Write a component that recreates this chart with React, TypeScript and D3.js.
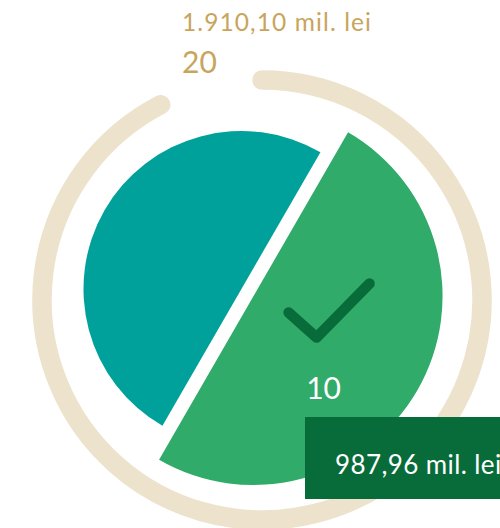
import React from "react";
import * as d3 from "d3";

// ---- data ----
const categories = ["Verde", "Turcoaz"];
const counts = [10, 10];
const totalCount = 20;
const totalAmountLabel = "1.910,10 mil. lei";
const selectedAmountLabel = "987,96 mil. lei";
const selectedIndex = 0;

const W = 500;
const H = 528;
const FONT = "Lato, 'Open Sans', sans-serif";

const colors = ["#30AB6A", "#00A19A"];
const dark = "#076C3A";
const ringColor = "#EDE3CC";
const gold = "#C8A55C";

export default function App() {
  const pieCenter = { x: 247.5, y: 292.5 };
  const ringCenter = { x: 262, y: 300 };
  const ringR = 220;

  const pie = d3
    .pie<number>()
    .sort(null)
    .value((d) => d)
    .startAngle(Math.PI / 6)
    .endAngle(Math.PI / 6 + 2 * Math.PI);
  const arcs = pie(counts);

  // open arc for the gauge ring (clockwise from 12 o'clock)
  const a0 = 0;
  const a1 = ((360 - 27.4) * Math.PI) / 180;
  const rp = d3.path();
  rp.moveTo(Math.sin(a0) * ringR, -Math.cos(a0) * ringR);
  rp.arc(0, 0, ringR, a0 - Math.PI / 2, a1 - Math.PI / 2, false);
  const ringPath = rp.toString();

  return (
    <svg
      width={W}
      height={H}
      style={{ position: "absolute", left: 0, top: 0 }}
      fontFamily={FONT}
    >
      <path
        d={ringPath}
        transform={`translate(${ringCenter.x},${ringCenter.y})`}
        fill="none"
        stroke={ringColor}
        strokeWidth={19.5}
        strokeLinecap="round"
      />
      {arcs.map((a, i) => {
        const sel = i === selectedIndex;
        const r = sel ? 189 : 158;
        const mid = (a.startAngle + a.endAngle) / 2;
        const off = 7;
        const dx = Math.sin(mid) * off;
        const dy = -Math.cos(mid) * off;
        const arcGen = d3.arc<any>().innerRadius(0).outerRadius(r);
        return (
          <g
            key={categories[i]}
            transform={`translate(${pieCenter.x + dx},${pieCenter.y + dy})`}
          >
            <path d={arcGen(a) as string} fill={colors[i]} />
            {sel && (
              <>
                <polyline
                  points="35,16.5 63,41.5 116,-12.5"
                  fill="none"
                  stroke={dark}
                  strokeWidth={10.5}
                  strokeLinecap="round"
                  strokeLinejoin="round"
                />
                <text
                  x={70}
                  y={102.5}
                  textAnchor="middle"
                  fill="#ffffff"
                  fontSize={30}
                >
                  {counts[i]}
                </text>
              </>
            )}
          </g>
        );
      })}
      <text x={182} y={31} fill={gold} fontSize={24.5} letterSpacing={1.1}>
        {totalAmountLabel}
      </text>
      <text x={182} y={73} fill={gold} fontSize={30}>
        {totalCount}
      </text>
      <rect x={305} y={417} width={200} height={82} fill={dark} />
      <text x={335} y={474} fill="#ffffff" fontSize={26} letterSpacing={0.4}>
        {selectedAmountLabel}
      </text>
    </svg>
  );
}
